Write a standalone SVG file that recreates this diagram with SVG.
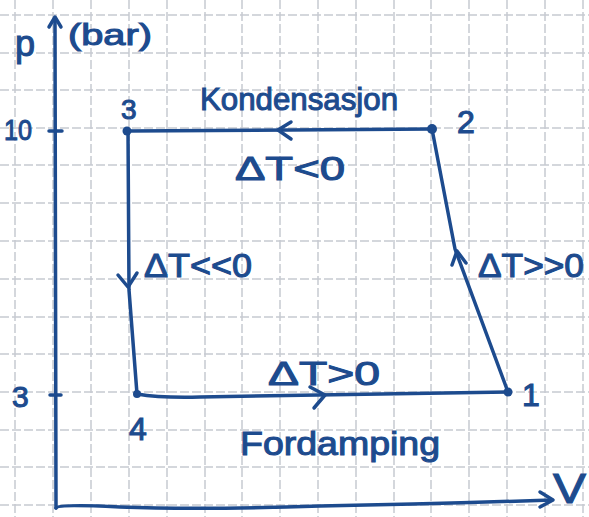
<svg xmlns="http://www.w3.org/2000/svg" width="589" height="517" viewBox="0 0 589 517">
<style>
.grid line{stroke:#c6cad1;stroke-width:1.5;stroke-dasharray:9 3}
.ink{stroke:#1d4b8e;fill:none;stroke-width:3.5;stroke-linecap:round;stroke-linejoin:round}
.t{fill:#1d4b8e;stroke:#1d4b8e;stroke-width:1.1;font-family:"Liberation Sans","DejaVu Sans",sans-serif;}
</style>
<rect width="589" height="517" fill="#ffffff"/>
<g class="grid">
<line x1="15" y1="0" x2="15" y2="517"/><line x1="53" y1="0" x2="53" y2="517"/><line x1="91" y1="0" x2="91" y2="517"/><line x1="129" y1="0" x2="129" y2="517"/><line x1="167" y1="0" x2="167" y2="517"/><line x1="205" y1="0" x2="205" y2="517"/><line x1="242" y1="0" x2="242" y2="517"/><line x1="280" y1="0" x2="280" y2="517"/><line x1="318" y1="0" x2="318" y2="517"/><line x1="356" y1="0" x2="356" y2="517"/><line x1="394" y1="0" x2="394" y2="517"/><line x1="431" y1="0" x2="431" y2="517"/><line x1="469" y1="0" x2="469" y2="517"/><line x1="507" y1="0" x2="507" y2="517"/><line x1="545" y1="0" x2="545" y2="517"/><line x1="583" y1="0" x2="583" y2="517"/>
<line x1="0" y1="15" x2="589" y2="15"/><line x1="0" y1="53" x2="589" y2="53"/><line x1="0" y1="90" x2="589" y2="90"/><line x1="0" y1="128" x2="589" y2="128"/><line x1="0" y1="165" x2="589" y2="165"/><line x1="0" y1="203" x2="589" y2="203"/><line x1="0" y1="241" x2="589" y2="241"/><line x1="0" y1="279" x2="589" y2="279"/><line x1="0" y1="317" x2="589" y2="317"/><line x1="0" y1="354" x2="589" y2="354"/><line x1="0" y1="392" x2="589" y2="392"/><line x1="0" y1="430" x2="589" y2="430"/><line x1="0" y1="467" x2="589" y2="467"/><line x1="0" y1="505" x2="589" y2="505"/>
</g>
<g id="axes">
<path class="ink" d="M56,508 L55,18"/>
<path class="ink" d="M49,27 L55,17 L61,27"/>
<path class="ink" d="M56,508 Q58,504 120,507 Q200,510 320,506 Q430,504 552,500"/>
<path class="ink" d="M540,492 L553,500 L540,507"/>
<path class="ink" d="M49,131 L62,131"/>
<path class="ink" d="M50,395 L61,395"/>
<text class="t" x="15" y="56" font-size="36">p</text>
<text class="t" x="68" y="45" font-size="30" textLength="84" lengthAdjust="spacingAndGlyphs">(bar)</text>
<text class="t" x="4" y="140" font-size="30" textLength="28" lengthAdjust="spacingAndGlyphs">10</text>
<text class="t" x="12" y="407" font-size="30">3</text>
<text class="t" x="553" y="503" font-size="42" textLength="33" lengthAdjust="spacingAndGlyphs">V</text>
</g>
<g id="connectors">
<path class="ink" d="M128,131 L432,129"/>
<path class="ink" d="M291,122 L278,130 L291,139"/>
<path class="ink" d="M432,129 L455,249 L508,392"/>
<path class="ink" d="M452,265 L457,251 L466,263"/>
<path class="ink" d="M128,131 L129,290 L137,394"/>
<path class="ink" d="M118,275 L128,287 L137,273"/>
<path class="ink" d="M137,394 Q160,398 200,397 L508,392"/>
<path class="ink" d="M310,387 L325,395 L314,408"/>
</g>
<g id="n3">
<circle cx="127" cy="131" r="4.5" fill="#1d4b8e"/>
<text class="t" x="121" y="119" font-size="28">3</text>
</g>
<g id="n2">
<circle cx="432" cy="129" r="5" fill="#1d4b8e"/>
<text class="t" x="457" y="133" font-size="32">2</text>
</g>
<g id="n1">
<circle cx="508" cy="392" r="4.5" fill="#1d4b8e"/>
<text class="t" x="522" y="406" font-size="32">1</text>
</g>
<g id="n4">
<circle cx="137" cy="394" r="4" fill="#1d4b8e"/>
<text class="t" x="129" y="440" font-size="32">4</text>
</g>
<g id="labels">
<text class="t" x="200" y="110" font-size="32" textLength="198" lengthAdjust="spacingAndGlyphs">Kondensasjon</text>
<text class="t" x="235" y="180" font-size="34" textLength="110" lengthAdjust="spacingAndGlyphs">ΔT&lt;0</text>
<text class="t" x="144" y="277" font-size="34" textLength="108" lengthAdjust="spacingAndGlyphs">ΔT&lt;&lt;0</text>
<text class="t" x="478" y="277" font-size="34" textLength="106" lengthAdjust="spacingAndGlyphs">ΔT&gt;&gt;0</text>
<text class="t" x="268" y="385" font-size="34" textLength="112" lengthAdjust="spacingAndGlyphs">ΔT&gt;0</text>
<text class="t" x="240" y="455" font-size="34" textLength="200" lengthAdjust="spacingAndGlyphs">Fordamping</text>
</g>
</svg>
